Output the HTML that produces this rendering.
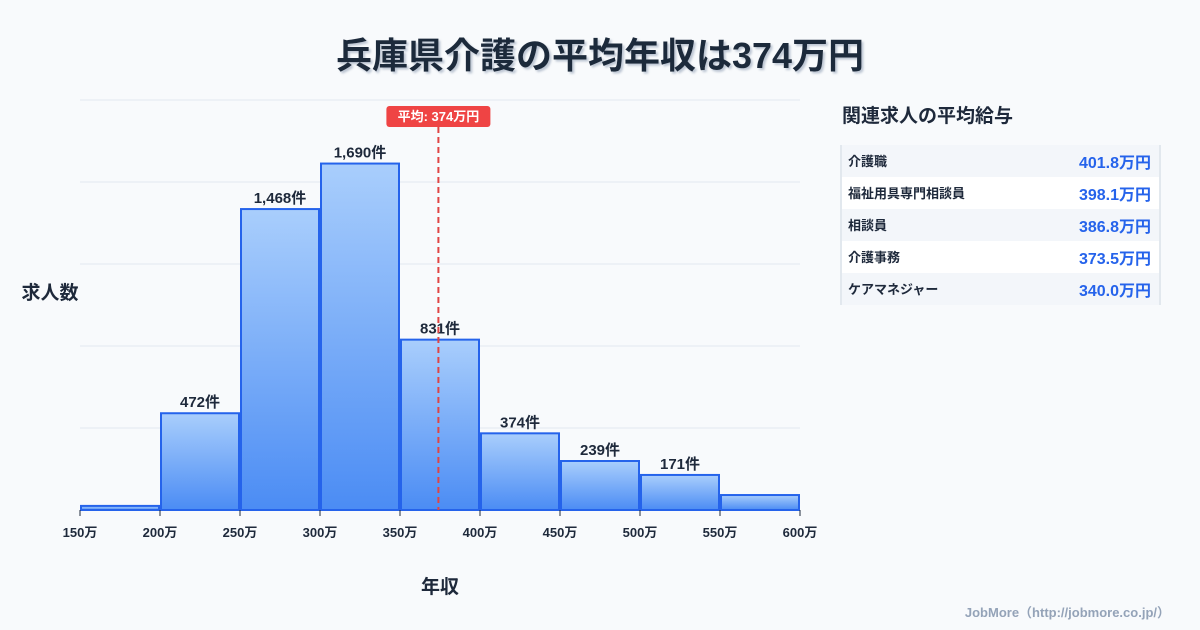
<!DOCTYPE html>
<html><head><meta charset="utf-8"><style>
body{margin:0;background:#f8fafc;font-family:"Liberation Sans","Noto Sans CJK JP",sans-serif;}
#wrap{position:relative;width:1200px;height:630px;overflow:hidden;background:#f8fafc;}
</style></head><body>
<div id="wrap">
<svg id="chart" width="1200" height="630" style="position:absolute;left:0;top:0">
<defs><linearGradient id="g" x1="0" y1="0" x2="0" y2="1"><stop offset="0" stop-color="#a9cefc"/><stop offset="1" stop-color="#4b8cf4"/></linearGradient>
<filter id="sh"><feDropShadow dx="2" dy="2" stdDeviation="1" flood-color="#94a3b8" flood-opacity="0.6"/></filter></defs>
<text x="600" y="68" text-anchor="middle" font-size="36" font-weight="bold" fill="#1e293b" filter="url(#sh)">兵庫県介護の平均年収は374万円</text>
<text x="50" y="299" text-anchor="middle" font-size="19" font-weight="bold" fill="#1e293b">求人数</text>
<text x="440" y="593" text-anchor="middle" font-size="19" font-weight="bold" fill="#1e293b">年収</text>
<text x="1170" y="617" text-anchor="end" font-size="13" font-weight="bold" fill="#94a3b8">JobMore（http://jobmore.co.jp/）</text>
<g id="grid"></g><g id="bars"></g><g id="axis"></g><g id="avg"></g>
<text x="842" y="122" font-size="19" font-weight="bold" fill="#1e293b">関連求人の平均給与</text>
<g id="table"></g>
</svg>
</div>
<script>
const binStarts=[150,200,250,300,350,400,450,500,550];
const counts=[20,472,1468,1690,831,374,239,171,73];
const countLabels=["","472件","1,468件","1,690件","831件","374件","239件","171件",""];
const xTicks=[150,200,250,300,350,400,450,500,550,600];
const yGrid=[0,400,800,1200,1600,2000];
const avgValue=374;
const jobNames=["介護職","福祉用具専門相談員","相談員","介護事務","ケアマネジャー"];
const jobSalaries=["401.8万円","398.1万円","386.8万円","373.5万円","340.0万円"];
const NS="http://www.w3.org/2000/svg";
const X=v=>80+(v-150)*720/450;
const Y=v=>510-v*410/2000;
function mk(tag,attrs,parent,txt){const e=document.createElementNS(NS,tag);for(const k in attrs)e.setAttribute(k,attrs[k]);if(txt!==undefined)e.textContent=txt;document.getElementById(parent).appendChild(e);return e;}
yGrid.forEach(v=>{const l=mk('line',{x1:80,x2:800,y1:Y(v),y2:Y(v),stroke:'#e2e8f0','stroke-width':1},'grid');

});
binStarts.forEach((b,i)=>{const x0=X(b)+1,x1=X(b+50)-1;const r=mk('rect',{x:x0,y:Y(counts[i]),width:x1-x0,height:510-Y(counts[i]),fill:'url(#g)',stroke:'#2563eb','stroke-width':2},'bars');


if(countLabels[i]){const t=mk('text',{x:(X(b)+X(b+50))/2,y:Y(counts[i])-6,'text-anchor':'middle','font-size':15,'font-weight':'bold',fill:'#1e293b'},'bars',countLabels[i]);

}});
xTicks.forEach(v=>{const l=mk('line',{x1:X(v),x2:X(v),y1:510,y2:516,stroke:'#1e293b','stroke-width':1},'axis');


const t=mk('text',{x:X(v),y:537,'text-anchor':'middle','font-size':13,'font-weight':'bold',fill:'#1e293b'},'axis',v+'万');

});
const ax=X(avgValue);
const al=mk('line',{x1:ax,x2:ax,y1:127,y2:510,stroke:'#e04444','stroke-width':2,'stroke-dasharray':'6,4'},'avg');


const ab=mk('rect',{x:ax-52,y:106,width:104,height:21,rx:3,fill:'#ef4444'},'avg');


const at=mk('text',{x:ax,y:121,'text-anchor':'middle','font-size':13,'font-weight':'bold',fill:'#fff'},'avg','平均: '+avgValue+'万円');


const bl=mk('line',{x1:841,x2:841,y1:145,y2:305,stroke:'#cbd5e1','stroke-width':1},'table');


const br=mk('line',{x1:1160,x2:1160,y1:145,y2:305,stroke:'#cbd5e1','stroke-width':1},'table');


jobNames.forEach((n,i)=>{const y=145+i*32;const r=mk('rect',{x:842,y:y,width:317,height:32,fill:i%2?'#ffffff':'#f3f6fa'},'table');


const t=mk('text',{x:848,y:y+21,'font-size':13,'font-weight':'bold',fill:'#1e293b'},'table',n);


const s=mk('text',{x:1151,y:y+23,'text-anchor':'end','font-size':16,'font-weight':'bold',fill:'#2563eb'},'table',jobSalaries[i]);

});
</script>
</body></html>
